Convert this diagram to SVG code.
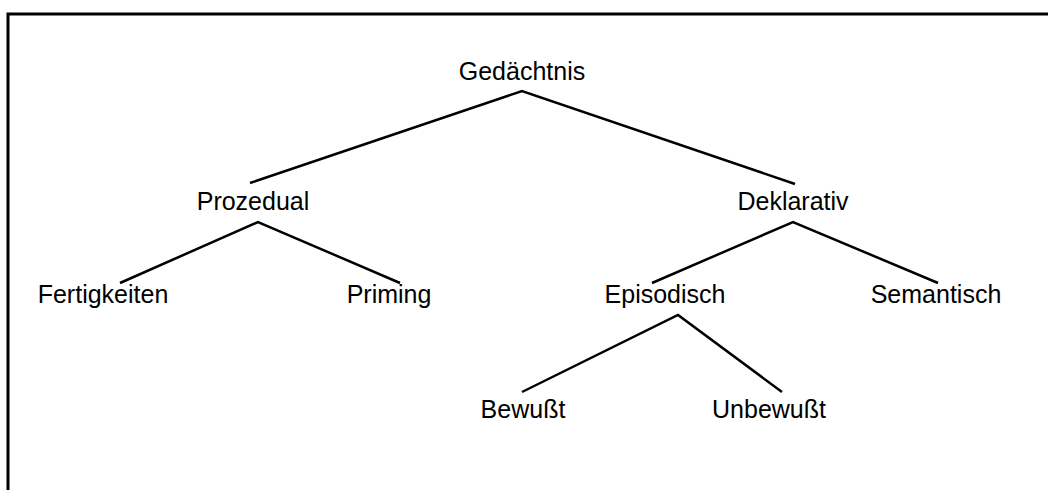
<svg xmlns="http://www.w3.org/2000/svg" width="1048" height="490" viewBox="0 0 1048 490">
<style>
.lbl{font-family:"Liberation Sans",Arial,sans-serif;font-size:25px;fill:#000;text-anchor:middle}
.ln{stroke:#000;stroke-width:2.5;fill:none;stroke-linejoin:miter}
.frame{stroke:#000;stroke-width:3;fill:none}
</style>
<rect width="1048" height="490" fill="#fff"/>
<path class="frame" d="M8,490 V14 H1048"/>
<g id="connectors">
<polyline class="ln" points="250,183 522,91 795,184"/>
<polyline class="ln" points="120,283 258,222 400,283"/>
<polyline class="ln" points="652,283 793,222 938,283"/>
<polyline class="ln" points="522,392 678,315 782,392"/>
</g>
<g id="n-gedaechtnis"><text class="lbl" x="522" y="80">Gedächtnis</text></g>
<g id="n-prozedual"><text class="lbl" x="253" y="210">Prozedual</text></g>
<g id="n-deklarativ"><text class="lbl" x="793" y="210">Deklarativ</text></g>
<g id="n-fertigkeiten"><text class="lbl" x="103" y="303">Fertigkeiten</text></g>
<g id="n-priming"><text class="lbl" x="389" y="303">Priming</text></g>
<g id="n-episodisch"><text class="lbl" x="665" y="303">Episodisch</text></g>
<g id="n-semantisch"><text class="lbl" x="936" y="303">Semantisch</text></g>
<g id="n-bewusst"><text class="lbl" x="523" y="418">Bewußt</text></g>
<g id="n-unbewusst"><text class="lbl" x="769" y="418">Unbewußt</text></g>
</svg>
